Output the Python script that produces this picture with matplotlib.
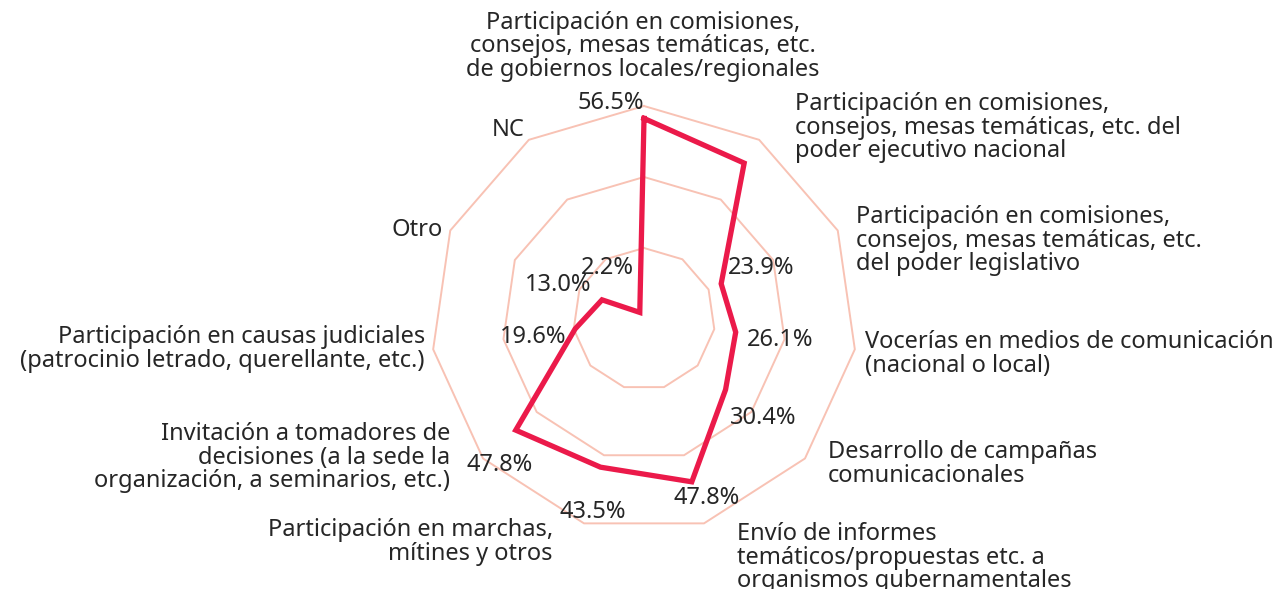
import numpy as np
import matplotlib
matplotlib.use("Agg")
import matplotlib.pyplot as plt

# Survey: advocacy activities reported by organizations (% of respondents)
categories = [
    "Participación en comisiones,\nconsejos, mesas temáticas, etc.\nde gobiernos locales/regionales",
    "Participación en comisiones,\nconsejos, mesas temáticas, etc. del\npoder ejecutivo nacional",
    "Participación en comisiones,\nconsejos, mesas temáticas, etc.\ndel poder legislativo",
    "Vocerías en medios de comunicación\n(nacional o local)",
    "Desarrollo de campañas\ncomunicacionales",
    "Envío de informes\ntemáticos/propuestas etc. a\norganismos gubernamentales",
    "Participación en marchas,\nmítines y otros",
    "Invitación a tomadores de\ndecisiones (a la sede la\norganización, a seminarios, etc.)",
    "Participación en causas judiciales\n(patrocinio letrado, querellante, etc.)",
    "Otro",
    "NC",
]
values = [56.5, 52.2, 23.9, 26.1, 30.4, 47.8, 43.5, 47.8, 19.6, 13.0, 2.2]
show_value = [True, False, True, True, True, True, True, True, True, True, True]
grid_levels = [20, 40, 60]

# styling
LINE_COLOR = "#EB1A4A"
GRID_COLOR = "#F8C2B4"
TEXT_COLOR = "#262626"
FONT = ["Noto Sans", "DejaVu Sans"]
FS = 17
plt.rcParams["font.family"] = FONT

# value label offsets (pixels) relative to each vertex
value_offsets = [(-33, 15), (0, 0), (40, 16), (44, -8), (38, -28), (15, -16),
                 (-8, -45), (-16, -35), (-42, -8), (-44, 15), (-32, 44)]

# category label anchors (pixel coords from top-left) and alignment
cat_pos = [
    (643, 82, "center", "bottom"),
    (795, 92, "left", "top"),
    (856, 205, "left", "top"),
    (865, 330, "left", "top"),
    (828, 440, "left", "top"),
    (737, 522, "left", "top"),
    (553, 518, "right", "top"),
    (450, 422, "right", "top"),
    (425, 325, "right", "top"),
    (443, 230, "right", "center"),
    (525, 130, "right", "center"),
]

W, H, DPI = 1283, 589, 100
cx, cy = 644, 319          # centre of the web, pixels from top-left
scale = 3.55               # pixels per percentage point

fig = plt.figure(figsize=(W / DPI, H / DPI), dpi=DPI)
ax = fig.add_axes([0, 0, 1, 1])
ax.set_xlim(-cx / scale, (W - cx) / scale)
ax.set_ylim(-(H - cy) / scale, cy / scale)
ax.set_aspect("equal")
ax.axis("off")

n = len(categories)
theta = np.arange(n) * 2 * np.pi / n  # clockwise from top


def to_xy(r, th):
    return np.asarray(r) * np.sin(th), np.asarray(r) * np.cos(th)


def px_to_data(px, py):
    return (px - cx) / scale, (cy - py) / scale


# polygonal grid rings
for lvl in grid_levels:
    gx, gy = to_xy(np.full(n + 1, lvl), np.append(theta, theta[0]))
    ax.plot(gx, gy, color=GRID_COLOR, lw=1.4, zorder=1)

# data polygon
vals = np.array(values)
dx, dy = to_xy(np.append(vals, vals[0]), np.append(theta, theta[0]))
ax.plot(dx, dy, color=LINE_COLOR, lw=3.8, zorder=3, solid_joinstyle="miter")

# value labels
for i, v in enumerate(values):
    if not show_value[i]:
        continue
    px, py = to_xy(v, theta[i])
    ax.annotate(f"{v:.1f}%", (px, py), xytext=value_offsets[i],
                textcoords="offset pixels", ha="center", va="center",
                fontsize=FS, color=TEXT_COLOR, zorder=4)

# category labels
for lab, (px, py, ha, va) in zip(categories, cat_pos):
    x, y = px_to_data(px, py)
    ax.text(x, y, lab, ha=ha, va=va, multialignment=ha,
            fontsize=FS, color=TEXT_COLOR, linespacing=0.98, zorder=4)

fig.savefig("out.png", dpi=DPI, facecolor="white")
